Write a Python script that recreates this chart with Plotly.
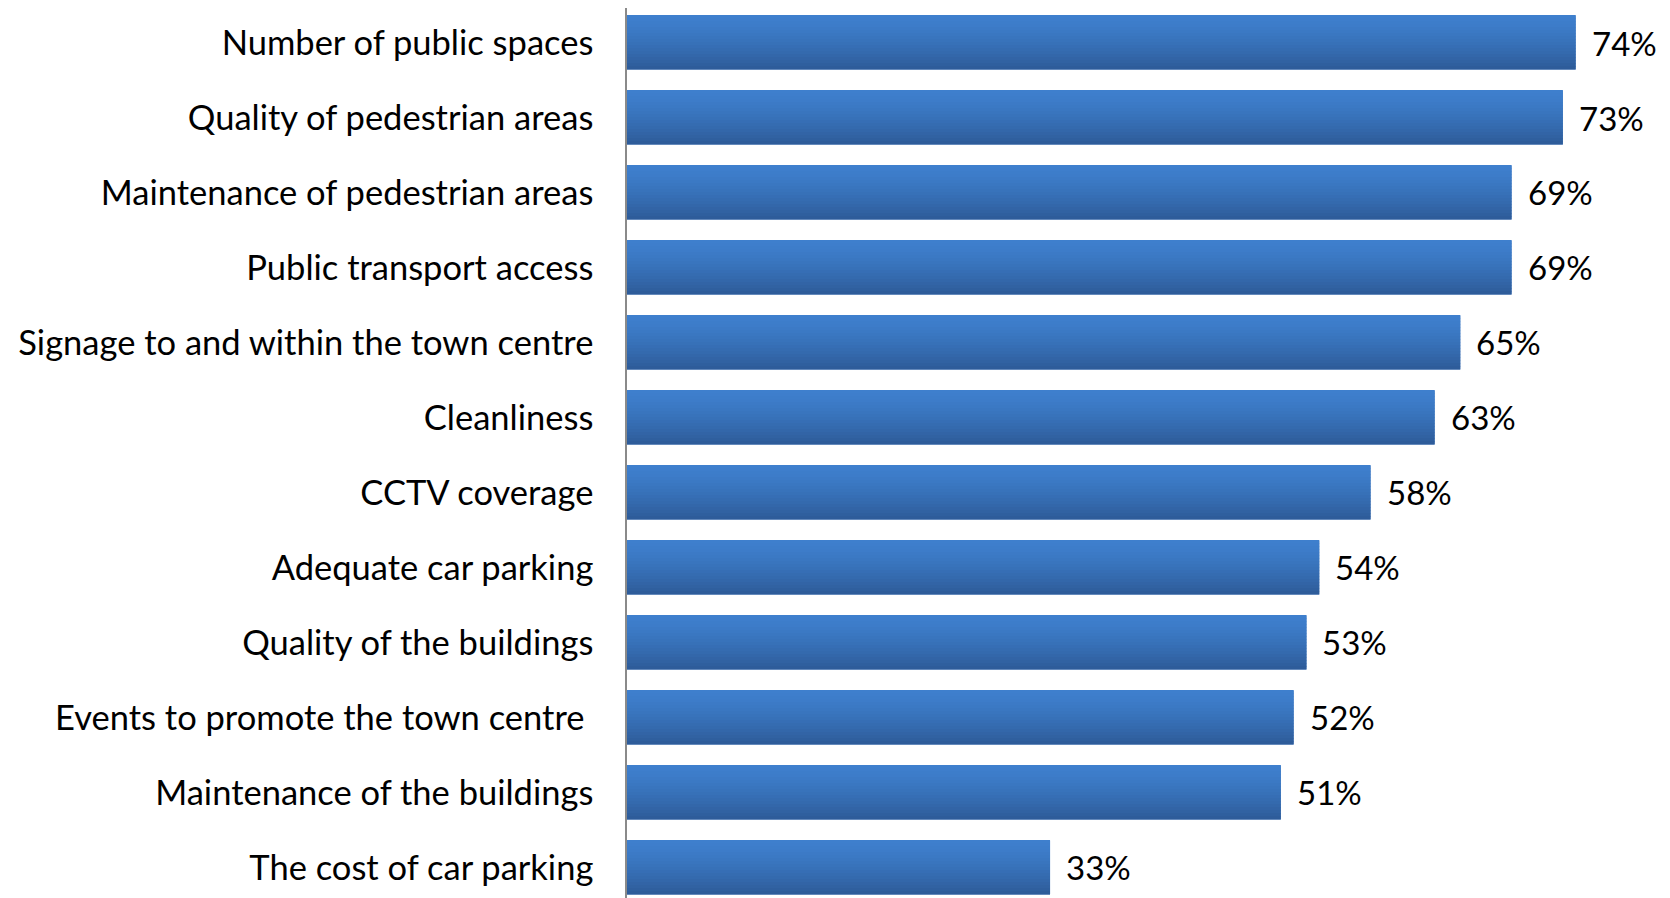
import plotly.graph_objects as go

# categories listed bottom to top, as plotly draws them
categories = [
    "The cost of car parking",
    "Maintenance of the buildings",
    "Events to promote the town centre\u00a0",
    "Quality of the buildings",
    "Adequate car parking",
    "CCTV coverage",
    "Cleanliness",
    "Signage to and within the town centre",
    "Public transport access",
    "Maintenance of pedestrian areas",
    "Quality of pedestrian areas",
    "Number of public spaces",
]
values = [33, 51, 52, 53, 54, 58, 63, 65, 69, 69, 73, 74]
labels = [f"{v}%" for v in values]

FONT = "Lato"
TOP = (62, 127, 205)
BOTTOM = (46, 92, 154)
BAR_W = 0.72
N_STRIPES = 18

fig = go.Figure()

# base bar (mid colour) so the gradient stripes show no seams
fig.add_trace(go.Bar(x=values, y=categories, orientation="h",
                     width=BAR_W, marker=dict(color="rgb(56,113,185)", line_width=0),
                     hoverinfo="skip", showlegend=False))

# vertical gradient built from thin stacked stripes
h = BAR_W / N_STRIPES
for k in range(N_STRIPES):
    t = (k / (N_STRIPES - 1)) ** 1.4
    c = tuple(round(a + (b - a) * t) for a, b in zip(TOP, BOTTOM))
    fig.add_trace(go.Bar(x=values, y=categories, orientation="h",
                         width=h * 1.15, offset=BAR_W / 2 - (k + 1) * h,
                         marker=dict(color=f"rgb{c}", line_width=0),
                         hoverinfo="skip", showlegend=False))

for cat, v, lab in zip(categories, values, labels):
    fig.add_annotation(x=v, y=cat, text=lab, showarrow=False,
                       xanchor="left", xshift=14,
                       font=dict(family=FONT, size=33, color="black"))

# page body adds an 8px margin, so the figure is 8px smaller than the window
fig.update_layout(
    width=1662, height=890,
    margin=dict(l=619, r=0, t=0, b=0),
    barmode="overlay",
    plot_bgcolor="white", paper_bgcolor="white",
    font=dict(family=FONT, size=34.5, color="black"),
)
fig.update_xaxes(range=[0, 81.36], visible=False, showgrid=False, zeroline=False)
fig.update_yaxes(type="category", categoryorder="array", categoryarray=categories,
                 range=[-0.407, 11.46], showgrid=False, zeroline=False,
                 showline=True, linecolor="#8a8a8a", linewidth=1.5,
                 ticks="", ticklabelstandoff=25,
                 tickfont=dict(family=FONT, size=34.5, color="black"))

fig.write_html("out.html")
